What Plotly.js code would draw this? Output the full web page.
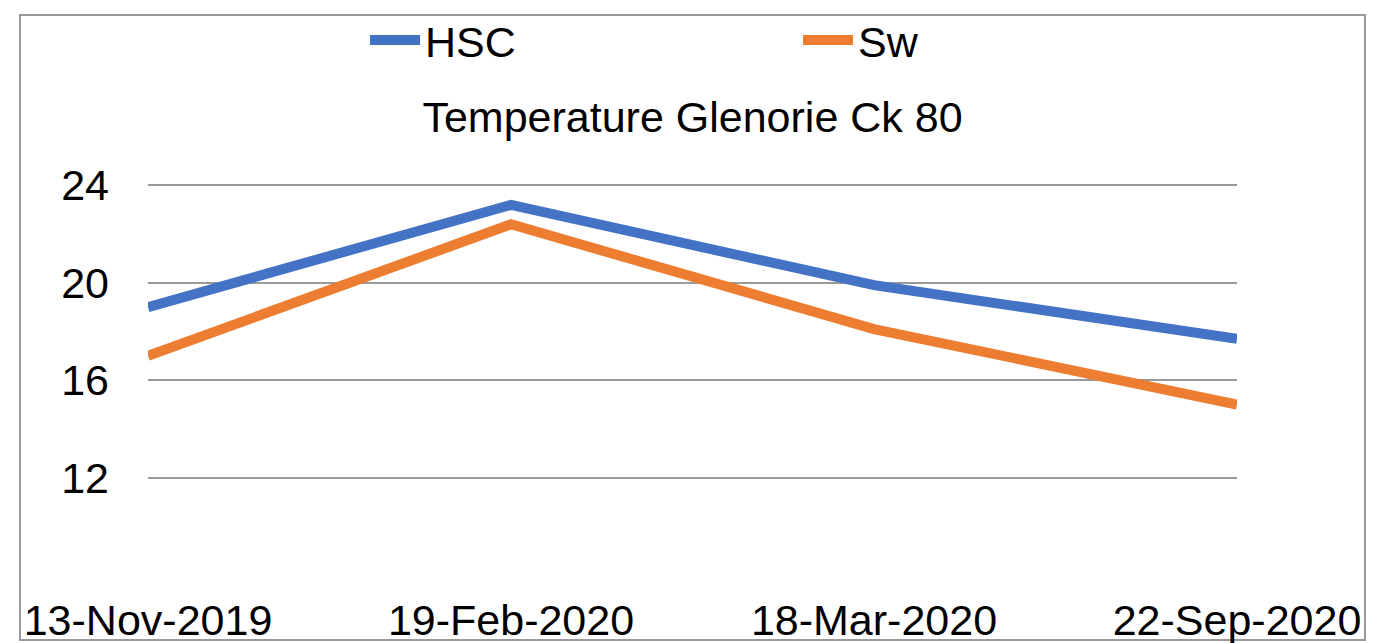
<!DOCTYPE html>
<html>
<head>
<meta charset="utf-8">
<script src="https://cdn.plot.ly/plotly-3.0.1.min.js"></script>
<style>
html,body{margin:0;padding:0;background:#fff;}
#chart{width:1400px;height:643px;}
</style>
</head>
<body>
<div id="chart"></div>
<script>
const categories = ["13-Nov-2019", "19-Feb-2020", "18-Mar-2020", "22-Sep-2020"];
const hscValues = [19.0, 23.2, 19.9, 17.7];
const swValues = [17.0, 22.4, 18.1, 15.0];
const yTickVals = [8, 12, 16, 20, 24];
const yTickText = ["", "12", "16", "20", "24"];

const FONT = '"Liberation Sans", Arial, Helvetica, sans-serif';
const L = 148, R = 163, T = 161, B = 68;
const W = 1400, H = 643;
const pw = W - L - R, ph = H - T - B;
const px2x = p => (p - L) / pw;
const px2y = p => (H - B - p) / ph;
const cy = p => 1 - p / H;
const cx = p => p / W;

const traces = [
  {x: categories, y: hscValues, name: "HSC", type: "scatter", mode: "lines",
   line: {color: "#4472C4", width: 10}},
  {x: categories, y: swValues, name: "Sw", type: "scatter", mode: "lines",
   line: {color: "#ED7D31", width: 10}}
];

const layout = {
  width: W, height: H,
  margin: {l: L, r: R, t: T, b: B, pad: 0, autoexpand: false},
  paper_bgcolor: "#fff", plot_bgcolor: "#fff",
  font: {family: FONT, size: 43, color: "#000"},
  title: {text: "Temperature Glenorie Ck 80", font: {family: FONT, size: 43, color: "#000"},
          xref: "paper", x: 0.5, xanchor: "center", yref: "container", y: cy(117), yanchor: "middle"},
  showlegend: true,
  legend: {orientation: "h", xref: "container", yref: "container", xanchor: "left", x: cx(365),
           yanchor: "middle", y: cy(40),
           itemwidth: 50, entrywidth: 368, entrywidthmode: "pixels",
           font: {family: FONT, size: 43, color: "#000"}, bgcolor: "rgba(0,0,0,0)"},
  xaxis: {type: "category", range: [0, 3], showgrid: false, zeroline: false, showline: false,
          ticks: "", tickfont: {family: FONT, size: 43, color: "#000"}, ticklabelstandoff: 16,
          fixedrange: true, automargin: false},
  yaxis: {range: [8, 25], tickvals: yTickVals, ticktext: yTickText, showgrid: true,
          gridcolor: "#9a9a9a", gridwidth: 2, zeroline: false, showline: false, ticks: "",
          tickfont: {family: FONT, size: 43, color: "#000"}, ticklabelstandoff: 38,
          fixedrange: true, automargin: false},
  shapes: [
    {type: "rect", xref: "paper", yref: "paper",
     x0: px2x(20), x1: px2x(1365), y0: px2y(640), y1: px2y(15),
     line: {color: "#9a9a9a", width: 2}, fillcolor: "rgba(0,0,0,0)", layer: "below"}
  ]
};

Plotly.newPlot("chart", traces, layout, {displayModeBar: false, staticPlot: true});
</script>
</body>
</html>
